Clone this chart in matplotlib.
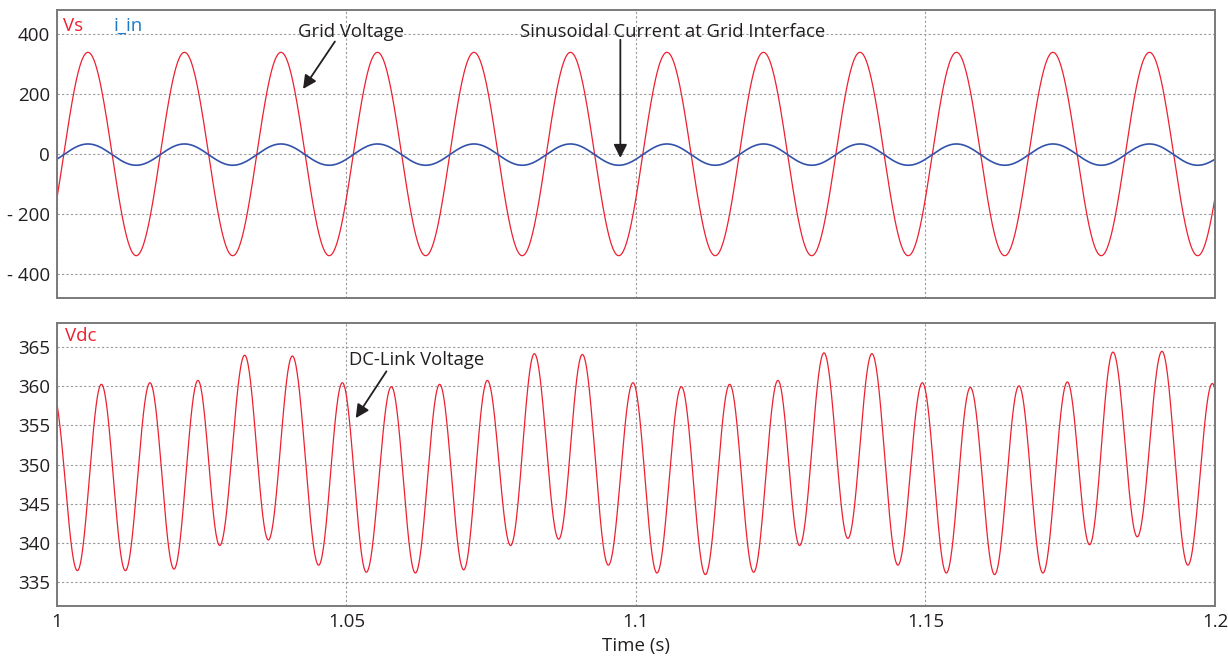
# Grid voltage / current and DC-link voltage ripple over 1.0 ... 1.2 s

import numpy as np
import matplotlib
matplotlib.use("Agg")
import matplotlib.pyplot as plt

# --- values ---
# grid voltage and input current (sinusoids, 60 Hz)
grid_freq = 60.0
vs_amplitude = 339.0
vs_peak_time = 1.00535
iin_amplitude = 35.5
iin_offset = -2.0

# DC-link voltage: extrema of the 120 Hz ripple
vdc_start = 359.0
vdc_peak_times = [1.00767, 1.01606, 1.02435, 1.03242, 1.04065, 1.04929, 1.05775, 1.06609,
                  1.07433, 1.08245, 1.09074, 1.09948, 1.10784, 1.11618, 1.12452, 1.13247,
                  1.14075, 1.14946, 1.15775, 1.16614, 1.17450, 1.18238, 1.19084, 1.19954]
vdc_peaks = [360.2, 360.4, 360.7, 363.9, 363.8, 360.4, 359.9, 360.2,
             360.7, 364.1, 364.0, 360.4, 359.9, 360.2, 360.7, 364.2,
             364.1, 360.4, 359.8, 360.0, 360.5, 364.3, 364.4, 360.3]
vdc_trough_times = [1.00352, 1.01181, 1.02021, 1.02810, 1.03651, 1.04520, 1.05343, 1.06190,
                    1.07024, 1.07835, 1.08665, 1.09523, 1.10362, 1.11198, 1.12032, 1.12826,
                    1.13660, 1.14524, 1.15360, 1.16194, 1.17028, 1.17834, 1.18658, 1.19532]
vdc_troughs = [336.5, 336.5, 336.7, 339.7, 340.4, 337.2, 336.3, 336.2,
               336.6, 339.7, 340.5, 337.2, 336.2, 336.0, 336.3, 339.7,
               340.6, 337.2, 336.2, 336.0, 336.2, 339.8, 340.8, 337.2]
vdc_end = 336.5

top_yticks = [400, 200, 0, -200, -400]
top_ylabels = ["400", "200", "0", "- 200", "- 400"]
bottom_yticks = [335, 340, 345, 350, 355, 360, 365]
xticks = [1.0, 1.05, 1.1, 1.15, 1.2]
xlabels = ["1", "1.05", "1.1", "1.15", "1.2"]

RED = "#ee2030"
BLUE = "#3352aa"
INK = "#231f20"
plt.rcParams["font.family"] = ["Open Sans", "DejaVu Sans"]


def ripple_curve(points, n=60):
    # half-cosine segments between successive extrema
    t_out, v_out = [], []
    for (ta, va), (tb, vb) in zip(points[:-1], points[1:]):
        s = np.linspace(0, 1, n, endpoint=False)
        t_out.append(ta + (tb - ta) * s)
        v_out.append(va + (vb - va) * (1 - np.cos(np.pi * s)) / 2)
    return np.concatenate(t_out), np.concatenate(v_out)


def style_axes(ax):
    for sp in ax.spines.values():
        sp.set_color("#7a7a7a")
        sp.set_linewidth(1.4)
    ax.tick_params(length=0, labelsize=13.5, colors=INK, pad=5)
    ax.grid(True, color="#9a9a9a", linestyle=(0, (2, 2)), linewidth=0.8)
    ax.set_axisbelow(True)
    ax.set_xlim(1.0, 1.2)
    ax.set_xticks(xticks)


def arrow(ax, head, tail):
    ax.annotate("", xy=head, xytext=tail,
                arrowprops=dict(arrowstyle="-|>", color=INK, lw=1.3, mutation_scale=20,
                                shrinkA=0, shrinkB=0))


fig = plt.figure(figsize=(12.28, 6.6), dpi=100)
ax1 = fig.add_axes([0.0464, 0.5485, 0.943, 0.4363])
ax2 = fig.add_axes([0.0464, 0.0818, 0.943, 0.4288])

# top panel
t = np.linspace(1.0, 1.2, 6000)
phase = 2 * np.pi * grid_freq * (t - vs_peak_time)
ax1.plot(t, vs_amplitude * np.cos(phase), color=RED, linewidth=0.9)
ax1.plot(t, iin_amplitude * np.cos(phase) + iin_offset, color=BLUE, linewidth=1.2)
style_axes(ax1)
ax1.set_xticklabels([])
ax1.set_ylim(-480, 480)
ax1.set_yticks(top_yticks)
ax1.set_yticklabels(top_ylabels)
ax1.text(0.0055, 0.927, "Vs", transform=ax1.transAxes, color=RED, fontsize=13.5, va="baseline")
ax1.text(0.0487, 0.927, "i_in", transform=ax1.transAxes, color="#1a7ac8", fontsize=13.5,
         va="baseline")
ax1.text(1.0507, 390, "Grid Voltage", ha="center", va="baseline", fontsize=13.3, color=INK)
arrow(ax1, (1.0425, 217), (1.0480, 375))
ax1.text(1.1063, 390, "Sinusoidal Current at Grid Interface", ha="center", va="baseline",
         fontsize=13.3, color=INK)
arrow(ax1, (1.0973, -13), (1.0973, 381))

# bottom panel
points = [(vdc_peak_times[0] - 1 / 120.0, vdc_start)]
for tt, tv, pt, pv in zip(vdc_trough_times, vdc_troughs, vdc_peak_times, vdc_peaks):
    points.append((tt, tv))
    points.append((pt, pv))
points.append((vdc_trough_times[-1] + 1 / 120.0, vdc_end))
tv, vv = ripple_curve(points)
ax2.plot(tv, vv, color=RED, linewidth=0.9)
style_axes(ax2)
ax2.set_xticklabels(xlabels)
ax2.set_ylim(332, 368)
ax2.set_yticks(bottom_yticks)
ax2.text(0.0069, 0.936, "Vdc", transform=ax2.transAxes, color=RED, fontsize=13.5, va="baseline")
ax2.text(1.0504, 362.6, "DC-Link Voltage", ha="left", va="baseline", fontsize=13.3, color=INK)
arrow(ax2, (1.0516, 355.9), (1.0569, 361.85))
ax2.set_xlabel("Time (s)", fontsize=13.5, color=INK, labelpad=4)

fig.savefig("out.png", dpi=100)
